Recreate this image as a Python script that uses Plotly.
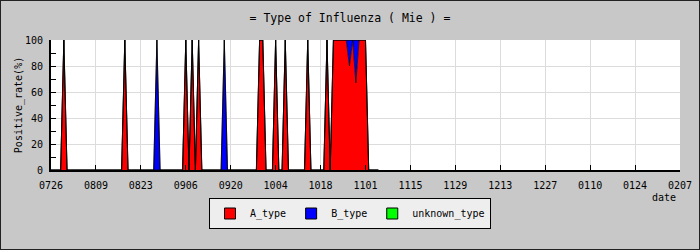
import datetime as dt
import plotly.graph_objects as go

# ---- data ----
a_dates = ["2009-07-30", "2009-08-18", "2009-09-06", "2009-09-08", "2009-09-10",
           "2009-09-29", "2009-09-30", "2009-10-04", "2009-10-07", "2009-10-14",
           "2009-10-20", "2009-10-22", "2009-10-23", "2009-10-24", "2009-10-25",
           "2009-10-26", "2009-10-27", "2009-10-28", "2009-10-29", "2009-10-30",
           "2009-10-31", "2009-11-01"]
a_values = [100, 100, 100, 100, 100,
            100, 100, 100, 100, 100,
            100, 100, 100, 100, 100,
            100, 80, 100, 67, 100,
            100, 100]
b_dates = ["2009-08-28", "2009-09-18", "2009-10-27", "2009-10-29"]
b_values = [100, 100, 20, 33]
unknown_dates = []
unknown_values = []

data_start = "2009-07-26"
data_end = "2009-11-05"
tick_dates = ["2009-07-26", "2009-08-09", "2009-08-23", "2009-09-06", "2009-09-20",
              "2009-10-04", "2009-10-18", "2009-11-01", "2009-11-15", "2009-11-29",
              "2009-12-13", "2009-12-27", "2010-01-10", "2010-01-24", "2010-02-07"]
tick_labels = ["0726", "0809", "0823", "0906", "0920", "1004", "1018", "1101",
               "1115", "1129", "1213", "1227", "0110", "0124", "0207"]

# ---- build daily series ----
d0 = dt.date.fromisoformat(data_start)
d1 = dt.date.fromisoformat(data_end)
days = [(d0 + dt.timedelta(days=i)).isoformat() for i in range((d1 - d0).days + 1)]

def daily(dates, values):
    m = dict(zip(dates, values))
    return [m.get(d, 0) for d in days]

series = [("A_type", daily(a_dates, a_values), "#ff0000"),
          ("B_type", daily(b_dates, b_values), "#0000ff"),
          ("unknown_type", daily(unknown_dates, unknown_values), "#00ff00")]

MONO = "DejaVu Sans Mono"
fig = go.Figure()
for name, vals, col in series:
    fig.add_trace(go.Scatter(x=days, y=vals, stackgroup="one", mode="lines",
                             line=dict(color="black", width=0.7),
                             fillcolor=col, name=name, showlegend=False,
                             hoverinfo="skip"))
for name, vals, col in series:
    fig.add_trace(go.Scatter(x=[None], y=[None], mode="markers", name=name,
                             marker=dict(symbol="square", size=11, color=col,
                                         line=dict(color="black", width=1))))

W, H = 700, 250
L, R, T, B = 51, 20, 40, 80
pw, ph = W - L - R, H - T - B

fig.update_layout(
    width=W, height=H,
    margin=dict(l=L, r=R, t=T, b=B, autoexpand=False),
    paper_bgcolor="#c8c8c8", plot_bgcolor="white",
    font=dict(family=MONO, size=10, color="black"),
    title=dict(text="= Type of Influenza ( Mie ) =", x=0.5, xanchor="center",
               xref="container", y=1 - 18 / H, yanchor="middle", yref="container",
               font=dict(family=MONO, size=11.5, color="black")),
    xaxis=dict(type="date", range=[tick_dates[0], tick_dates[-1]],
               tickvals=tick_dates, ticktext=tick_labels,
               ticks="inside", ticklen=5, tickcolor="black", tickwidth=1,
               showgrid=True, gridcolor="#dcdcdc", gridwidth=1,
               showline=True, linecolor="black", linewidth=2,
               zeroline=False, ticklabelstandoff=5,
               tickfont=dict(family=MONO, size=10)),
    yaxis=dict(range=[0, 100], tickvals=[0, 20, 40, 60, 80, 100],
               ticks="inside", ticklen=5, tickcolor="black", tickwidth=1,
               minor=dict(dtick=10, ticks="inside", ticklen=5, tickcolor="black",
                          showgrid=False),
               showgrid=True, gridcolor="#dcdcdc", gridwidth=1,
               showline=True, linecolor="black", linewidth=2, zeroline=False,
               ticklabelstandoff=4,
               title=dict(text="Positive_rate(%)", standoff=0,
                          font=dict(family=MONO, size=10)),
               tickfont=dict(family=MONO, size=10)),
    legend=dict(orientation="h", x=0.5, xanchor="center", xref="container",
                y=1 - 198 / H, yanchor="top", yref="container",
                traceorder="normal",
                bgcolor="#eeeeee", bordercolor="black", borderwidth=1,
                font=dict(family=MONO, size=10), itemwidth=30),
    annotations=[dict(text="date", xref="paper", yref="paper", x=1, y=0,
                      xanchor="right", yanchor="middle", yshift=-27, xshift=-2,
                      showarrow=False, font=dict(family=MONO, size=10))],
    shapes=[dict(type="rect", xref="paper", yref="paper",
                 x0=-L / pw, x1=(W - L) / pw, y0=-B / ph, y1=(H - B) / ph,
                 line=dict(color="#222222", width=2), layer="above")],
)

fig.write_html("out.html")
